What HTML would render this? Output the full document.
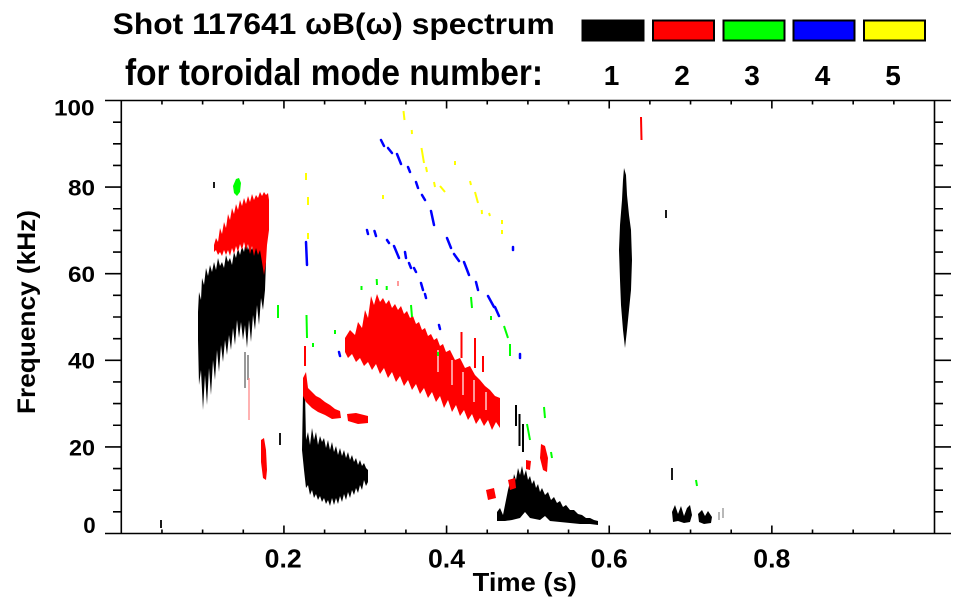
<!DOCTYPE html>
<html>
<head>
<meta charset="utf-8">
<style>
html,body{margin:0;padding:0;background:#fff;}
svg{display:block;}
text{font-family:"Liberation Sans",Arial,Helvetica,sans-serif;font-weight:bold;fill:#000;}
</style>
</head>
<body>
<svg width="963" height="615" viewBox="0 0 963 615" xmlns="http://www.w3.org/2000/svg">
<rect width="963" height="615" fill="#fff"/>

<!-- Title -->
<text x="112.7" y="34" font-size="30" textLength="442" lengthAdjust="spacingAndGlyphs">Shot 117641 ωB(ω) spectrum</text>
<text x="125" y="85" font-size="37" textLength="418" lengthAdjust="spacingAndGlyphs">for toroidal mode number:</text>

<!-- Legend -->
<g stroke="#000" stroke-width="2">
<rect x="582.5" y="20.5" width="61" height="20" fill="#000"/>
<rect x="653" y="20.5" width="61" height="20" fill="#ff0000"/>
<rect x="723.5" y="20.5" width="61" height="20" fill="#00ff00"/>
<rect x="793.5" y="20.5" width="61" height="20" fill="#0000ff"/>
<rect x="864" y="20.5" width="61" height="20" fill="#ffff00"/>
</g>
<g font-size="28" text-anchor="middle">
<text x="611.5" y="85">1</text>
<text x="682" y="85">2</text>
<text x="752" y="85">3</text>
<text x="822.5" y="85">4</text>
<text x="893" y="85">5</text>
</g>

<!-- DATA -->
<!-- black blob 1 -->
<polygon fill="#000" points="198,312 199,292 201,300 202,278 204,285 206,268 208,276 210,265 212,272 214,262 216,270 218,258 220,266 222,262 224,268 226,255 228,262 230,258 232,265 234,252 236,258 238,248 240,255 242,246 244,252 246,240 248,250 250,244 252,250 254,240 256,248 258,238 260,246 262,230 264,250 266,262 265,290 263,310 261,298 259,325 257,305 255,330 253,315 251,342 249,320 247,348 245,325 243,340 241,322 239,338 237,320 235,345 233,328 231,350 229,335 227,355 225,340 223,362 221,345 219,372 217,350 215,380 213,360 211,395 209,368 207,405 205,375 203,410 201,370 199,385 198,340"/>
<g stroke="#777" stroke-width="1.5">
<line x1="245" y1="352" x2="245" y2="388"/>
<line x1="248" y1="355" x2="248" y2="380"/>
</g>
<line x1="249" y1="378" x2="249" y2="420" stroke="#f99" stroke-width="1.5"/>

<!-- red blob 1 -->
<polygon fill="#ff0000" points="214,245 216,238 218,242 220,228 222,234 224,222 226,228 228,214 230,220 232,208 234,214 236,204 238,210 240,200 242,206 244,198 246,204 248,196 250,202 252,194 254,200 256,195 258,198 260,192 262,196 264,192 266,195 268,193 269,200 269,230 267,245 266,262 264,275 262,262 260,250 258,255 256,248 254,256 252,246 250,254 248,244 246,250 244,242 242,250 240,244 238,252 236,246 234,254 232,248 230,256 228,250 226,255 224,250 222,256 220,252 218,255 216,250 214,252"/>
<polygon fill="#ff0000" points="261,440 264,438 266,450 267,470 266,480 263,478 261,462"/>
<!-- green near 0.14s -->
<polygon fill="#00ff00" points="233,186 236,179 239,178 241,183 240,192 237,196 234,193"/>

<!-- black blob 2 -->
<polygon fill="#000" points="303,395 305,392 306,440 308,432 310,445 312,428 314,440 316,432 318,445 320,436 322,442 324,438 326,448 328,440 330,450 332,442 334,452 336,446 338,455 340,448 342,456 344,450 346,458 348,452 350,460 352,455 354,462 356,458 358,465 360,460 362,466 364,463 366,468 368,470 368,482 366,486 364,480 362,490 360,485 358,493 356,488 354,495 352,490 350,498 348,492 346,500 344,494 342,502 340,496 338,504 336,498 334,505 332,498 330,506 328,500 326,504 324,498 322,502 320,496 318,500 316,494 314,498 312,490 310,495 308,485 306,488 304,470 302,450"/>

<!-- red 3 -->
<polygon fill="#ff0000" points="303,378 306,372 308,388 312,392 316,396 320,398 325,402 330,405 335,409 340,411 341,418 332,419 325,415 318,412 312,408 306,402 303,396"/>
<polygon fill="#ff0000" points="347,414 356,413 368,416 368,423 358,424 348,421"/>
<line x1="305" y1="346" x2="305" y2="366" stroke="#ff0000" stroke-width="2"/>

<!-- main red blob -->
<polygon fill="#ff0000" points="345,338 350,330 355,335 358,322 362,328 365,310 368,318 371,296 374,305 377,294 380,302 383,298 386,304 389,300 392,308 395,304 398,310 401,306 404,314 407,311 410,318 413,316 416,324 419,322 422,330 425,328 428,336 431,334 434,340 437,338 440,346 443,344 446,352 450,350 455,360 460,358 465,368 470,366 475,375 480,380 485,386 490,390 495,396 500,398 500,428 496,422 492,430 488,420 484,426 480,418 476,424 472,414 468,420 464,410 460,416 456,405 452,412 448,400 444,408 440,396 436,402 432,392 428,398 424,388 420,394 416,384 412,390 408,380 404,386 400,376 396,382 392,372 388,378 384,368 380,374 376,364 372,370 368,362 364,366 360,358 356,362 352,354 348,358 345,352"/>
<g stroke="#fff" stroke-width="1.2">
<line x1="452" y1="360" x2="452" y2="385"/>
<line x1="463" y1="372" x2="463" y2="395"/>
<line x1="474" y1="380" x2="474" y2="402"/>
<line x1="486" y1="392" x2="486" y2="410"/>
<line x1="438" y1="350" x2="438" y2="372"/>
</g>
<g stroke="#ff0000" stroke-width="2">
<line x1="461.5" y1="332" x2="461.5" y2="358"/>
<line x1="475" y1="338" x2="475" y2="368"/>
<line x1="483" y1="356" x2="483" y2="372"/>
</g>
<line x1="398" y1="281" x2="398" y2="286" stroke="#f99" stroke-width="2"/>

<!-- black 3 low band -->
<polygon fill="#000" points="497,512 500,508 503,515 506,500 508,490 510,482 512,488 514,474 516,480 518,468 520,475 522,466 524,476 526,470 528,480 530,476 532,484 534,480 536,488 538,484 540,492 542,488 545,495 548,492 551,500 554,497 557,503 560,501 563,507 566,505 570,510 574,510 578,514 582,515 586,518 590,518 594,520 598,521 598,525 590,524 580,524 570,523 560,522 550,521 545,516 540,520 530,518 525,512 520,518 512,520 505,521 497,521"/>
<g stroke="#000" stroke-width="2">
<line x1="516" y1="405" x2="516" y2="426"/>
<line x1="519.5" y1="414" x2="519.5" y2="446"/>
<line x1="523" y1="424" x2="523" y2="452"/>
</g>
<!-- red 4 -->
<g fill="#ff0000">
<polygon points="541,444 545,446 548,458 547,472 543,470 540,458"/>
<polygon points="526,460 531,461 530,470 526,469"/>
<polygon points="508,480 515,478 516,488 510,490"/>
<polygon points="486,490 494,488 496,498 488,500"/>
</g>

<!-- black vertical 0.61s -->
<polygon fill="#000" points="624,168 626,175 627,195 629,215 631,230 632,260 631,290 629,310 627,330 625,348 623,330 621,305 620,280 619,250 620,225 622,200 623,180"/>

<!-- black 4 small cluster -->
<polygon fill="#000" points="672,512 675,505 678,514 681,506 684,516 687,508 690,505 692,515 690,522 684,523 678,521 673,522"/>
<polygon fill="#000" points="698,514 702,510 705,516 708,511 712,517 711,523 704,524 699,522"/>
<g stroke="#888" stroke-width="1.2">
<line x1="719" y1="512" x2="719" y2="520"/>
<line x1="723" y1="508" x2="723" y2="518"/>
</g>

<!-- small black bits -->
<g stroke="#000" stroke-width="1.8">
<line x1="672" y1="468" x2="672" y2="480"/>
<line x1="666" y1="210" x2="666" y2="218"/>
<line x1="161" y1="520" x2="161" y2="528"/>
<line x1="280" y1="433" x2="280" y2="445"/>
<line x1="214" y1="182" x2="214" y2="188"/>
</g>

<!-- red thin at 0.64s -->
<line x1="641" y1="117" x2="641.5" y2="140" stroke="#ff0000" stroke-width="2"/>

<!-- green bits -->
<g stroke="#00ff00" stroke-width="2">
<line x1="278" y1="305" x2="278" y2="318"/>
<line x1="306.5" y1="315" x2="307" y2="338"/>
<line x1="313" y1="343" x2="313" y2="347"/>
<line x1="335" y1="330" x2="335" y2="334"/>
<line x1="361.5" y1="286" x2="361.5" y2="290"/>
<line x1="376.7" y1="279" x2="377" y2="285"/>
<line x1="386.7" y1="286" x2="386.7" y2="290"/>
<line x1="411" y1="305" x2="412" y2="317"/>
<line x1="471" y1="297" x2="472" y2="308"/>
<line x1="491" y1="316" x2="491" y2="320"/>
<line x1="504" y1="326" x2="508" y2="338"/>
<line x1="510" y1="344" x2="510" y2="356"/>
<line x1="438" y1="352" x2="438" y2="356"/>
<line x1="527" y1="424" x2="530" y2="440"/>
<line x1="544" y1="407" x2="545" y2="418"/>
<line x1="551" y1="452" x2="552" y2="458"/>
<line x1="696" y1="480" x2="697" y2="486"/>
</g>

<!-- blue upper line -->
<g stroke="#0000ff" stroke-width="2.5" stroke-linecap="round">
<line x1="381" y1="140" x2="384" y2="146"/>
<line x1="388" y1="148" x2="392" y2="153"/>
<line x1="397" y1="154" x2="401" y2="164"/>
<line x1="408" y1="167" x2="410" y2="172"/>
<line x1="416" y1="182" x2="418" y2="188"/>
<line x1="422" y1="195" x2="425" y2="200"/>
<line x1="431" y1="211" x2="434" y2="225"/>
<line x1="447" y1="238" x2="451" y2="248"/>
<line x1="454" y1="254" x2="459" y2="261"/>
<line x1="464" y1="262" x2="469" y2="275"/>
<line x1="476" y1="282" x2="478" y2="290"/>
<line x1="488" y1="296" x2="494" y2="307"/>
<line x1="495" y1="307" x2="499" y2="316"/>
<line x1="513" y1="247" x2="513" y2="250"/>
<line x1="520" y1="354" x2="520" y2="358"/>
<!-- lower line -->
<line x1="367" y1="230" x2="368" y2="234"/>
<line x1="374.5" y1="231" x2="376" y2="236"/>
<line x1="387" y1="240" x2="389" y2="243"/>
<line x1="394" y1="246" x2="399" y2="258"/>
<line x1="405" y1="252" x2="406" y2="258"/>
<line x1="409" y1="263" x2="411" y2="268"/>
<line x1="414" y1="268" x2="416" y2="272"/>
<line x1="421" y1="283" x2="423" y2="290"/>
<line x1="425" y1="294" x2="426" y2="298"/>
<line x1="306" y1="242" x2="307" y2="265"/>
<line x1="439" y1="325" x2="440" y2="329"/>
<line x1="339" y1="352" x2="340" y2="356"/>
</g>

<!-- yellow bits -->
<g stroke="#ffff00" stroke-width="2">
<line x1="403.5" y1="111" x2="404.5" y2="120"/>
<line x1="411.7" y1="130" x2="412" y2="134"/>
<line x1="421.5" y1="148" x2="424" y2="163"/>
<line x1="426" y1="167" x2="427" y2="172"/>
<line x1="455" y1="161" x2="455" y2="165"/>
<line x1="434" y1="182" x2="435" y2="187"/>
<line x1="440" y1="186" x2="445" y2="192"/>
<line x1="470" y1="181" x2="471" y2="185"/>
<line x1="475" y1="192" x2="478" y2="203"/>
<line x1="481.7" y1="210" x2="482" y2="214"/>
<line x1="489" y1="213" x2="490" y2="216"/>
<line x1="502" y1="220" x2="502" y2="224"/>
<line x1="502" y1="230" x2="502" y2="234"/>
<line x1="306" y1="173" x2="306" y2="180"/>
<line x1="308" y1="197" x2="308" y2="205"/>
<line x1="308" y1="233" x2="308" y2="239"/>
<line x1="383" y1="195" x2="383" y2="199"/>
</g>

<!-- AXES -->
<g stroke="#000" stroke-width="1.6" fill="none">
<line x1="105" y1="100.5" x2="951" y2="100.5"/>
<line x1="105" y1="533.5" x2="951" y2="533.5"/>
<line x1="121.3" y1="100.5" x2="121.3" y2="533.5"/>
<line x1="934.5" y1="100.5" x2="934.5" y2="533.5"/>
<path d="M105 446.9H121.3M105 360.3H121.3M105 273.7H121.3M105 187.1H121.3M934.5 446.9H951M934.5 360.3H951M934.5 273.7H951M934.5 187.1H951"/>
<path d="M113 511.85H121.3M113 490.2H121.3M113 468.55H121.3M113 425.25H121.3M113 403.6H121.3M113 381.95H121.3M113 338.65H121.3M113 317H121.3M113 295.35H121.3M113 252.05H121.3M113 230.4H121.3M113 208.75H121.3M113 165.45H121.3M113 143.8H121.3M113 122.15H121.3"/>
<path d="M934.5 511.85H943M934.5 490.2H943M934.5 468.55H943M934.5 425.25H943M934.5 403.6H943M934.5 381.95H943M934.5 338.65H943M934.5 317H943M934.5 295.35H943M934.5 252.05H943M934.5 230.4H943M934.5 208.75H943M934.5 165.45H943M934.5 143.8H943M934.5 122.15H943"/>
<path d="M161.96 533.5V529.5M202.62 533.5V529.5M243.28 533.5V529.5M324.6 533.5V529.5M365.26 533.5V529.5M405.92 533.5V529.5M487.24 533.5V529.5M527.9 533.5V529.5M568.56 533.5V529.5M649.88 533.5V529.5M690.54 533.5V529.5M731.2 533.5V529.5M812.52 533.5V529.5M853.18 533.5V529.5M893.84 533.5V529.5"/>
<path d="M283.94 533.5V525.5M446.58 533.5V525.5M609.22 533.5V525.5M771.86 533.5V525.5"/>
<path d="M161.96 100.5V104.5M202.62 100.5V104.5M243.28 100.5V104.5M324.6 100.5V104.5M365.26 100.5V104.5M405.92 100.5V104.5M487.24 100.5V104.5M527.9 100.5V104.5M568.56 100.5V104.5M649.88 100.5V104.5M690.54 100.5V104.5M731.2 100.5V104.5M812.52 100.5V104.5M853.18 100.5V104.5M893.84 100.5V104.5"/>
<path d="M283.94 100.5V108.5M446.58 100.5V108.5M609.22 100.5V108.5M771.86 100.5V108.5"/>
</g>

<!-- Y tick labels -->
<g font-size="22.5">
<text x="54" y="115.5" textLength="40.5" lengthAdjust="spacingAndGlyphs">100</text>
<text x="68" y="195.5" textLength="27" lengthAdjust="spacingAndGlyphs">80</text>
<text x="68" y="282" textLength="27" lengthAdjust="spacingAndGlyphs">60</text>
<text x="68" y="368.6" textLength="27" lengthAdjust="spacingAndGlyphs">40</text>
<text x="69" y="455.5" textLength="26" lengthAdjust="spacingAndGlyphs">20</text>
<text x="83.3" y="533" textLength="12.4" lengthAdjust="spacingAndGlyphs">0</text>
</g>

<!-- X tick labels -->
<g font-size="26">
<text x="264.7" y="567.5" textLength="37" lengthAdjust="spacingAndGlyphs">0.2</text>
<text x="428" y="567.5" textLength="37" lengthAdjust="spacingAndGlyphs">0.4</text>
<text x="590.7" y="567.5" textLength="37" lengthAdjust="spacingAndGlyphs">0.6</text>
<text x="753.3" y="567.5" textLength="37" lengthAdjust="spacingAndGlyphs">0.8</text>
</g>

<!-- Axis titles -->
<text x="472.7" y="591" font-size="26" textLength="104" lengthAdjust="spacingAndGlyphs">Time (s)</text>
<text transform="translate(35,312) rotate(-90)" x="-102" y="0" font-size="25" textLength="204" lengthAdjust="spacingAndGlyphs">Frequency (kHz)</text>
</svg>
</body>
</html>
